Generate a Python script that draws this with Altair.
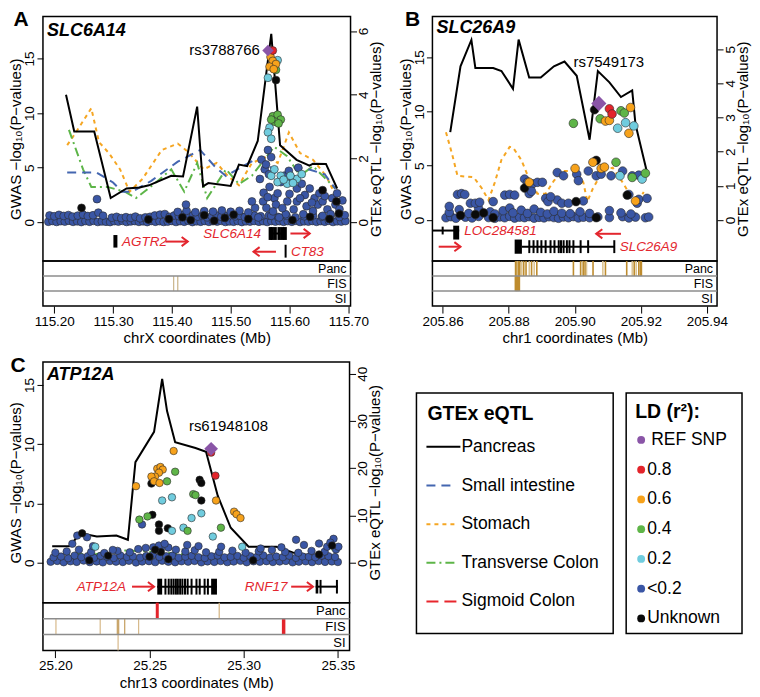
import altair as alt
import pandas as pd

FONT = "Liberation Sans"
GENE_RED = "#E3262E"

LD_COLORS = {"ref": "#8A55A7", "0.8": "#E3242B", "0.6": "#F7A21B", "0.4": "#5FB548",
             "0.2": "#70CCDE", "<0.2": "#3A56A5", "unk": "#0A0A0A"}

LINE_STYLES = {
    "Pancreas": dict(color="#000000", strokeWidth=2.0),
    "Small intestine": dict(color="#4466B0", strokeWidth=2.0, strokeDash=[9, 6]),
    "Stomach": dict(color="#F5A623", strokeWidth=2.0, strokeDash=[4, 4]),
    "Transverse Colon": dict(color="#5DB548", strokeWidth=2.0, strokeDash=[9, 4, 2, 4]),
    "Sigmoid Colon": dict(color="#E8262D", strokeWidth=2.0, strokeDash=[12, 6]),
}

# ---------------------------------------------------------------- Panel A (SLC6A14)
A_PANCREAS = [(115.220, 4.0), (115.234, 2.85), (115.268, 2.85), (115.296, 0.76), (115.323, 1.06),
              (115.345, 1.09), (115.361, 1.16), (115.399, 1.46), (115.419, 1.44), (115.443, 3.63),
              (115.453, 1.13), (115.462, 1.23), (115.500, 1.14), (115.514, 1.81), (115.528, 1.76),
              (115.546, 2.55), (115.569, 5.91), (115.584, 2.42), (115.612, 1.96), (115.634, 1.78),
              (115.640, 1.84), (115.662, 1.83), (115.681, 1.06)]
A_SMALL_INT = [(115.222, 1.56), (115.272, 1.56), (115.300, 1.25), (115.315, 0.96), (115.333, 0.96),
               (115.365, 1.30), (115.410, 1.90), (115.448, 2.27), (115.473, 1.75), (115.492, 1.45),
               (115.520, 1.75), (115.545, 2.00), (115.562, 1.85), (115.580, 1.45), (115.610, 1.72),
               (115.635, 1.65), (115.660, 1.50), (115.678, 1.05)]
A_STOMACH = [(115.222, 2.42), (115.235, 2.77), (115.263, 3.58), (115.276, 2.52), (115.293, 2.17),
             (115.312, 1.66), (115.328, 0.96), (115.350, 1.36), (115.383, 2.27), (115.410, 2.47),
             (115.427, 2.22), (115.454, 1.66), (115.476, 1.86), (115.495, 1.46), (115.514, 1.16),
             (115.536, 1.86), (115.563, 2.07), (115.580, 1.86), (115.599, 2.82), (115.618, 2.17),
             (115.640, 1.96), (115.662, 1.46), (115.681, 0.76)]
A_TRANS_COLON = [(115.225, 2.90), (115.249, 1.66), (115.263, 1.11), (115.290, 1.11), (115.320, 0.96),
                 (115.339, 0.76), (115.367, 1.16), (115.399, 1.66), (115.421, 0.96), (115.443, 1.86),
                 (115.460, 0.76), (115.492, 1.66), (115.514, 1.20), (115.536, 1.46), (115.574, 2.37),
                 (115.596, 2.07), (115.618, 1.46), (115.640, 1.76), (115.662, 1.36), (115.678, 1.06)]

A_BLUE = [
    (115.190, 0.05), (115.197, 0.12), (115.204, 0.03), (115.211, 0.10), (115.218, 0.06), (115.225, 0.14),
    (115.232, 0.04), (115.239, 0.09), (115.246, 0.02), (115.253, 0.11), (115.260, 0.05), (115.267, 0.13),
    (115.274, 0.03), (115.281, 0.08), (115.288, 0.05),
    (115.192, 0.62), (115.200, 0.55), (115.208, 0.68), (115.216, 0.58), (115.224, 0.66), (115.231, 0.52),
    (115.240, 0.61), (115.249, 0.70), (115.257, 0.57), (115.266, 0.64), (115.275, 0.88), (115.283, 0.60),
    (115.295, 0.02), (115.302, 0.10), (115.309, 0.06), (115.316, 0.13), (115.323, 0.03), (115.330, 0.08),
    (115.337, 0.11), (115.344, 0.04), (115.351, 0.09), (115.358, 0.02), (115.365, 0.12), (115.372, 0.05),
    (115.379, 0.10), (115.386, 0.03),
    (115.298, 0.42), (115.306, 0.50), (115.314, 0.38), (115.322, 0.47), (115.330, 0.40), (115.338, 0.52),
    (115.346, 0.36), (115.355, 0.45), (115.363, 0.50), (115.371, 0.62), (115.380, 0.70), (115.388, 0.75),
    (115.393, 0.06), (115.400, 0.12), (115.407, 0.03), (115.414, 0.10), (115.421, 0.05), (115.428, 0.14),
    (115.435, 0.02), (115.442, 0.09), (115.449, 0.05), (115.456, 0.12), (115.463, 0.04), (115.470, 0.10),
    (115.477, 0.06), (115.484, 0.13), (115.491, 0.03), (115.498, 0.08), (115.505, 0.05), (115.512, 0.11),
    (115.519, 0.02), (115.526, 0.09), (115.533, 0.06), (115.540, 0.12),
    (115.396, 0.50), (115.404, 0.62), (115.412, 0.55), (115.420, 0.70), (115.428, 0.58), (115.436, 0.66),
    (115.444, 0.52), (115.452, 0.60), (115.460, 0.45), (115.468, 0.55), (115.476, 0.62), (115.484, 0.50),
    (115.492, 0.58), (115.500, 0.66), (115.508, 0.54), (115.516, 0.60), (115.524, 0.48), (115.532, 0.56),
    (115.540, 0.62),
    (115.410, 0.95), (115.425, 1.05), (115.440, 0.92), (115.455, 1.02), (115.470, 0.98), (115.485, 1.08),
    (115.500, 0.96), (115.515, 1.05), (115.530, 0.90),
    (115.548, 0.05), (115.555, 0.10), (115.562, 0.03), (115.569, 0.12), (115.576, 0.06), (115.583, 0.10),
    (115.590, 0.04), (115.597, 0.11), (115.604, 0.05), (115.611, 0.13), (115.618, 0.03), (115.625, 0.09),
    (115.632, 0.06), (115.639, 0.12), (115.646, 0.04), (115.653, 0.10), (115.660, 0.05), (115.667, 0.13),
    (115.674, 0.03), (115.681, 0.09), (115.688, 0.06), (115.695, 0.11),
    (115.551, 0.55), (115.565, 0.62), (115.580, 0.50), (115.595, 0.60), (115.610, 0.45), (115.625, 0.55),
    (115.640, 0.62), (115.655, 0.50), (115.670, 0.58), (115.685, 0.48), (115.694, 0.65),
    (115.5525, 5.74), (115.5634, 6.62), (115.5689, 5.97), (115.5579, 4.85), (115.5497, 3.97),
    (115.5661, 3.24), (115.5743, 2.21), (115.5552, 1.91), (115.5607, 1.32), (115.5689, 0.59),
    (115.5470, 0.44), (115.5415, 1.32), (115.5361, 1.91), (115.5770, 1.62), (115.5798, 2.65),
    (115.5852, 3.68), (115.5907, 4.26), (115.5989, 4.71), (115.6044, 3.97), (115.6126, 3.09),
    (115.6208, 3.53), (115.6262, 2.50), (115.6344, 3.09), (115.6426, 2.21), (115.6481, 1.62),
    (115.6563, 1.91), (115.6645, 1.18), (115.6727, 2.21), (115.6781, 1.62), (115.6699, 0.74),
    (115.6563, 0.59), (115.6399, 1.03), (115.6235, 0.74), (115.6071, 1.18), (115.5962, 1.91),
    (115.5934, 0.74), (115.5825, 0.44), (115.6126, 1.91), (115.6290, 1.47), (115.6508, 2.65),
    (115.6809, 2.65), (115.6150, 5.00), (115.5600, 5.30), (115.5650, 4.40), (115.5560, 2.70),
    (115.5630, 2.30), (115.5720, 1.00), (115.5880, 1.30), (115.6000, 2.60), (115.6180, 2.20),
    (115.6380, 1.80), (115.6600, 2.40), (115.6850, 1.20), (115.6900, 2.00),
    (115.2727, 2.12), (115.4240, 1.62)]
A_BLACK = [(115.5770, 13.03), (115.6563, 2.94), (115.6798, 1.91), (115.2464, 1.32), (115.3600, 0.25),
           (115.3950, 0.30), (115.4180, 0.45), (115.4320, 0.20), (115.4550, 0.65), (115.4720, 0.15),
           (115.4900, 0.40), (115.5050, 0.70), (115.5300, 0.30), (115.6050, 0.20), (115.6350, 0.50),
           (115.6680, 0.30), (115.6840, 0.80)]
A_CYAN = [(115.5661, 8.68), (115.5634, 8.24), (115.5689, 7.65), (115.5634, 13.24), (115.5798, 14.85),
          (115.5689, 4.26), (115.5852, 4.26), (115.5962, 3.53), (115.6126, 3.97), (115.6208, 4.41),
          (115.5798, 3.68), (115.5743, 4.85), (115.6016, 4.26), (115.5900, 3.90), (115.6060, 3.60)]
A_GREEN = [(115.5716, 9.71), (115.5798, 9.85), (115.5852, 9.41), (115.5754, 9.21), (115.5689, 9.41),
           (115.5814, 9.06), (115.5770, 13.97)]
A_ORANGE = [(115.5678, 15.15), (115.5716, 14.79), (115.5770, 14.50), (115.5661, 14.26), (115.5732, 14.03)]
A_RED = [(115.5716, 15.74)]
A_REF = (115.5634, 15.74)

A_GENE_LINES = [(115.5665, 115.5935, -1.03)]
A_EXON_BLOCKS = []
A_EXON_BARS = [(115.304, -1.17, -2.32, 4.0), (115.5675, -0.44, -1.62, 3.5), (115.5705, -0.44, -1.62, 3.5),
               (115.5755, -0.44, -1.62, 3.5), (115.5825, -0.44, -1.62, 3.5), (115.5880, -0.44, -1.62, 3.5),
               (115.5925, -0.44, -1.62, 3.5), (115.5934, -2.06, -3.24, 2.0)]
A_ARROWS = [(115.389, 115.427, -1.77), (115.6016, 115.6344, -1.03), (115.577, 115.5388, -2.70)]
A_GENE_LABELS = [("AGTR2", 115.312, -1.77, "left"), ("SLC6A14", 115.555, -1.03, "right"),
                 ("CT83", 115.599, -2.70, "left")]
A_TRACK_MARKS = [(115.403, 1, "#CDB991", 1.3), (115.410, 1, "#CDB991", 1.3)]

# ---------------------------------------------------------------- Panel B (SLC26A9)
B_PANCREAS = [(205.8623, 2.57), (205.8654, 4.50), (205.8687, 5.27), (205.8699, 4.45), (205.8753, 4.45),
              (205.8778, 4.36), (205.8813, 3.84), (205.8830, 5.28), (205.8862, 4.17), (205.8897, 4.17),
              (205.8937, 4.50), (205.8969, 4.64), (205.9006, 4.22), (205.9045, 2.35), (205.9070, 4.36),
              (205.9105, 4.03), (205.9140, 3.60), (205.9174, 3.79), (205.9184, 2.80), (205.9219, 1.39)]
B_STOMACH = [(205.8610, 2.57), (205.8628, 1.95), (205.8645, 1.29), (205.8694, 1.25), (205.8719, 0.92),
             (205.8739, 0.58), (205.8758, 1.10), (205.8778, 1.76), (205.8803, 2.14), (205.8813, 2.12),
             (205.8838, 1.76), (205.8862, 1.20), (205.8887, 0.77), (205.8912, 0.77), (205.8937, 1.15),
             (205.8966, 1.43), (205.9006, 1.43), (205.9026, 1.10), (205.9038, 0.54), (205.9055, 0.92),
             (205.9085, 1.43), (205.9115, 1.53), (205.9145, 1.10), (205.9174, 0.63), (205.9189, 0.49),
             (205.9209, 0.82)]

B_BLUE = [
    (205.8610, 0.20), (205.8625, 0.30), (205.8640, 0.15), (205.8669, 0.25), (205.8689, 0.18),
    (205.8709, 0.32), (205.8739, 0.22), (205.8758, 0.15), (205.8773, 0.28), (205.8788, 0.20),
    (205.8803, 0.33), (205.8818, 0.17), (205.8833, 0.26), (205.8848, 0.21), (205.8862, 0.30),
    (205.8877, 0.16), (205.8892, 0.24), (205.8907, 0.19), (205.8922, 0.29), (205.8937, 0.22),
    (205.8951, 0.15), (205.8966, 0.27), (205.8981, 0.20), (205.8996, 0.31), (205.9011, 0.18),
    (205.9026, 0.25), (205.9045, 0.20), (205.9070, 0.28), (205.9105, 0.22), (205.9145, 0.30),
    (205.9164, 0.18), (205.9184, 0.26), (205.9214, 0.20), (205.9224, 0.27),
    (205.8620, 0.70), (205.8650, 0.95), (205.8679, 0.60), (205.8709, 1.05), (205.8744, 0.75),
    (205.8758, 0.55), (205.8783, 0.85), (205.8803, 1.10), (205.8813, 0.65), (205.8838, 0.90),
    (205.8857, 0.60), (205.8877, 1.00), (205.8897, 0.70), (205.8917, 0.55), (205.8937, 0.80),
    (205.8961, 0.62), (205.8986, 0.58), (205.9016, 0.75), (205.9045, 0.60), (205.9105, 0.86),
    (205.9140, 0.65), (205.9170, 0.55),
    (205.8620, 1.25), (205.8645, 2.35), (205.8657, 2.43), (205.8667, 2.35), (205.8684, 1.54),
    (205.8699, 1.54), (205.8712, 1.63), (205.8753, 1.69), (205.8788, 2.29), (205.8803, 2.35),
    (205.8818, 2.29), (205.8848, 3.77), (205.8857, 3.47), (205.8872, 3.33), (205.8887, 3.47),
    (205.8902, 3.47), (205.8862, 2.43), (205.8869, 2.64), (205.8912, 1.99), (205.8919, 1.69),
    (205.8947, 1.84), (205.8961, 1.54), (205.8947, 4.37), (205.8966, 4.07), (205.9006, 4.22),
    (205.9011, 3.62), (205.9041, 4.51), (205.9065, 4.07), (205.9080, 4.22), (205.9110, 4.07),
    (205.9145, 4.51), (205.9174, 4.07), (205.9194, 4.13), (205.9189, 1.54), (205.9194, 1.90),
    (205.9164, 2.35), (205.8981, 1.54), (205.9026, 1.75), (205.8927, 2.14), (205.9219, 1.99)]
B_BLACK = [(205.8654, 0.42), (205.8699, 0.50), (205.8724, 0.65), (205.8753, 0.21), (205.8848, 2.94),
           (205.9004, 1.69), (205.9065, 5.49), (205.9060, 10.16), (205.9159, 2.29), (205.9065, 0.21)]
B_CYAN = [(205.9130, 8.46), (205.9154, 8.97), (205.9179, 8.67), (205.9137, 4.07), (205.9204, 3.77)]
B_GREEN = [(205.8996, 8.91), (205.9077, 9.33), (205.9140, 10.07), (205.9150, 9.86), (205.9125, 5.32),
           (205.9174, 3.92), (205.9214, 4.31)]
B_ORANGE = [(205.8862, 3.47), (205.9001, 4.75), (205.9055, 5.32), (205.9080, 4.75), (205.9090, 4.87),
            (205.9184, 1.75), (205.9093, 9.12), (205.9105, 9.18), (205.9169, 10.37), (205.9164, 7.99)]
B_RED = [(205.9105, 10.25), (205.9113, 9.77)]
B_REF = (205.9073, 10.75)

B_GENE_LINES = [(205.8570, 205.8650, -0.98), (205.8840, 205.9120, -2.47)]
B_EXON_BLOCKS = [(205.8632, 205.8650, -0.53, -1.81), (205.8818, 205.8840, -1.81, -3.12)]
B_EXON_BARS = [(205.8600, -0.62, -1.34, 2.0)] + [
    (p, -1.87, -3.06, 2.0) for p in [205.88624, 205.88752, 205.88871, 205.88990, 205.89118, 205.89267,
                                      205.89386, 205.89515, 205.89584, 205.89663, 205.89762, 205.89841,
                                      205.89960, 205.90178, 205.90406, 205.91198]]
B_ARROWS = [(205.8588, 205.8654, -2.47), (205.9140, 205.9065, -1.28)]
B_GENE_LABELS = [("LOC284581", 205.8659, -0.98, "left"), ("SLC26A9", 205.9130, -2.47, "left")]
B_PANC_MARKS = [205.88208, 205.88237, 205.88267, 205.88297, 205.88336, 205.88396, 205.88455, 205.88525,
                205.88624, 205.88693, 205.88772, 205.88851, 205.89960, 205.90178, 205.90227, 205.90267,
                205.90316, 205.90356, 205.90554, 205.90851, 205.90930, 205.91574, 205.91742, 205.91801,
                205.91861, 205.91940, 205.91990, 205.92019]
B_PANC_DARK = [True, True, False, True, True, False, True, True, False, True, False, True,
               True, True, False, True, True, False, True, False, True, True, False, True,
               False, True, True, True]
B_FIS_MARKS = [205.88208, 205.88228, 205.88248, 205.88268, 205.88290, 205.88317]
B_TRACK_MARKS = ([(p, 0, "#BE8C2E" if d else "#DCC596", 1.6) for p, d in zip(B_PANC_MARKS, B_PANC_DARK)]
                 + [(p, 1, "#BE8C2E", 2.0) for p in B_FIS_MARKS])

# ---------------------------------------------------------------- Panel C (ATP12A)
C_PANCREAS = [(25.1983, 3.51), (25.2073, 3.51), (25.2134, 6.22), (25.2220, 5.54), (25.2324, 5.74),
              (25.2385, 4.86), (25.2425, 21.3), (25.2524, 27.7), (25.2567, 38.9), (25.2593, 32.1),
              (25.2636, 25.5), (25.2744, 24.3), (25.2800, 23.5), (25.2862, 14.2), (25.2931, 7.4),
              (25.3026, 3.4), (25.3174, 3.38), (25.3260, 2.16), (25.3380, 1.35), (25.3410, 1.69),
              (25.3451, 3.38)]
C_TRANS_COLON = [(25.2000, 1.0), (25.2100, 1.9), (25.2200, 1.7), (25.2320, 2.7), (25.2480, 2.4),
                 (25.2620, 2.0), (25.2800, 1.35), (25.3000, 1.2), (25.3150, 1.0), (25.3300, 0.8),
                 (25.3470, 2.7)]

C_ROW0_X = [25.1975, 25.2010, 25.2044, 25.2080, 25.2113, 25.2150, 25.2183, 25.2219, 25.2252, 25.2290,
            25.2322, 25.2358, 25.2391, 25.2428, 25.2461, 25.2497, 25.2530, 25.2567, 25.2600, 25.2636,
            25.2670, 25.2705, 25.2739, 25.2775, 25.2808, 25.2844, 25.2878, 25.2913, 25.2947, 25.2983,
            25.3016, 25.3052, 25.3086, 25.3121, 25.3155, 25.3191, 25.3224, 25.3260, 25.3293, 25.3329,
            25.3363, 25.3398, 25.3432, 25.3468, 25.3500]
C_ROW0_Y = [0.08, 0.15, 0.04, 0.12, 0.07, 0.18, 0.05, 0.11, 0.03, 0.14, 0.09, 0.06, 0.16, 0.02, 0.10,
            0.13, 0.05, 0.17, 0.08, 0.04, 0.12, 0.09, 0.15, 0.03, 0.11, 0.07, 0.14, 0.05, 0.10, 0.16,
            0.04, 0.12, 0.08, 0.13, 0.06, 0.10, 0.15, 0.03, 0.09, 0.12, 0.05, 0.14, 0.07, 0.11, 0.06]
C_ROW1_X = [25.1990, 25.2030, 25.2068, 25.2102, 25.2138, 25.2172, 25.2205, 25.2240, 25.2275, 25.2310,
            25.2345, 25.2380, 25.2412, 25.2450, 25.2483, 25.2518, 25.2552, 25.2588, 25.2622, 25.2655,
            25.2690, 25.2724, 25.2760, 25.2793, 25.2829, 25.2862, 25.2898, 25.2931, 25.2967, 25.3000,
            25.3035, 25.3070, 25.3104, 25.3140, 25.3173, 25.3208, 25.3242, 25.3277, 25.3312, 25.3346,
            25.3380, 25.3415, 25.3450, 25.3485]
C_ROW1_Y = [0.45, 0.52, 0.38, 0.60, 0.47, 0.55, 0.42, 0.58, 0.50, 0.40, 0.62, 0.48, 0.53, 0.44, 0.57,
            0.65, 0.49, 0.55, 0.60, 0.43, 0.51, 0.58, 0.46, 0.40, 0.54, 0.61, 0.45, 0.50, 0.57, 0.42,
            0.55, 0.48, 0.62, 0.44, 0.52, 0.47, 0.59, 0.41, 0.53, 0.50, 0.46, 0.60, 0.55, 0.48]
C_ROW2_X = [25.2000, 25.2060, 25.2125, 25.2190, 25.2260, 25.2330, 25.2395, 25.2440, 25.2480, 25.2520,
            25.2560, 25.2600, 25.2640, 25.2690, 25.2740, 25.2800, 25.2870, 25.2940, 25.3010, 25.3080,
            25.3150, 25.3220, 25.3290, 25.3360, 25.3430, 25.3490]
C_ROW2_Y = [0.85, 0.95, 1.10, 0.90, 0.82, 1.00, 0.88, 1.15, 1.25, 1.30, 1.20, 1.28, 1.10, 0.95, 1.05,
            0.88, 0.92, 1.02, 0.85, 0.96, 1.08, 0.90, 0.84, 1.00, 0.93, 1.12]
C_BLUE_EXTRA = [(25.2460, 3.23), (25.2116, 2.29), (25.2168, 2.15), (25.3278, 1.94), (25.3477, 2.02),
                (25.3443, 1.35), (25.3503, 1.35), (25.2305, 1.08), (25.2700, 1.50), (25.2760, 1.40),
                (25.2880, 1.35), (25.3090, 1.20), (25.3200, 1.30), (25.3400, 1.62), (25.2090, 1.60),
                (25.2200, 1.40), (25.2550, 1.45), (25.2580, 1.60), (25.3320, 1.50), (25.3460, 1.70)]
C_BLUE = (list(zip(C_ROW0_X, C_ROW0_Y)) + list(zip(C_ROW1_X, C_ROW1_Y))
          + list(zip(C_ROW2_X, C_ROW2_Y)) + C_BLUE_EXTRA)
C_BLACK = [(25.2510, 6.68), (25.2766, 7.00), (25.2775, 6.73), (25.2775, 5.25), (25.2515, 4.04),
           (25.2550, 3.23), (25.2550, 2.69), (25.2597, 2.91), (25.2142, 2.48), (25.3469, 1.45),
           (25.2180, 0.20), (25.2280, 0.60), (25.2500, 0.50), (25.2560, 0.90), (25.2600, 0.30),
           (25.2530, 1.10), (25.3050, 0.20), (25.3400, 0.70)]
C_CYAN = [(25.2567, 5.25), (25.2619, 5.52), (25.2775, 4.17), (25.2723, 3.77), (25.2619, 2.69),
          (25.2680, 2.96), (25.2836, 2.21), (25.2212, 1.35), (25.2992, 1.35)]
C_GREEN = [(25.2636, 7.68), (25.2593, 6.87), (25.2732, 5.79), (25.2744, 5.71), (25.2446, 3.64),
           (25.2489, 3.91), (25.2879, 2.96), (25.2702, 2.69)]
C_ORANGE = [(25.2628, 9.43), (25.2541, 7.94), (25.2558, 8.08), (25.2570, 7.86), (25.2550, 7.60),
            (25.2529, 7.27), (25.2510, 7.27), (25.2524, 6.87), (25.2553, 6.73), (25.2428, 6.46),
            (25.2853, 5.25), (25.2949, 4.31), (25.2962, 4.09), (25.2983, 3.77)]
C_RED = [(25.2827, 9.29), (25.2850, 7.35)]
C_REF = (25.2827, 9.61)

C_GENE_LINES = [(25.2541, 25.2858, -2.02), (25.3382, 25.3500, -2.02)]
C_EXON_BLOCKS = [(25.2541, 25.2567, -1.35, -2.69), (25.2827, 25.2858, -1.35, -2.69),
                 (25.3382, 25.3396, -1.45, -2.60)]
C_EXON_BARS = [(p, -1.35, -2.69, 2.0) for p in [25.25844, 25.26017, 25.26156, 25.26277, 25.26399,
                                                25.26502, 25.26624, 25.26745, 25.26884, 25.27023,
                                                25.27231, 25.27491, 25.27664, 25.27924, 25.28098]] + [
    (25.3408, -1.45, -2.60, 2.0), (25.3495, -1.45, -2.60, 2.0)]
C_ARROWS = [(25.2407, 25.2524, -2.02), (25.3252, 25.3368, -2.02)]
C_GENE_LABELS = [("ATP12A", 25.2385, -2.02, "right"), ("RNF17", 25.3243, -2.02, "right")]
C_TRACK_MARKS = [(25.2541, 0, "#E3242B", 3.0), (25.2870, 0, "#D7B98A", 1.3),
                 (25.2003, 1, "#D7B98A", 1.2), (25.2238, 1, "#D7B98A", 1.2), (25.2329, 1, "#C9A56A", 1.3),
                 (25.2336, 1, "#C9A56A", 1.3), (25.2368, 1, "#C9A56A", 1.3), (25.2442, 1, "#D7B98A", 1.2),
                 (25.3212, 1, "#E3242B", 3.5), (25.2333, 2, "#D7B98A", 1.2)]

# ---------------------------------------------------------------- helpers
LEFT_AXIS = dict(values=[0, 5, 10, 15], format="d", title="GWAS −log₁₀(P−values)", orient="left",
                 labelAngle=270, labelAlign="center", labelBaseline="bottom", tickSize=6,
                 labelPadding=0, titlePadding=-1, labelFontSize=13.5, titleFontSize=15)
RIGHT_AXIS = dict(format="d", title="GTEx eQTL −log₁₀(P−values)", orient="right",
                  labelAngle=270, labelAlign="center", labelBaseline="top", titleAngle=270,
                  titleBaseline="top", tickSize=6, labelPadding=0, titlePadding=-1,
                  labelFontSize=13.5, titleFontSize=15)
RIGHT_HEAD = "M-1,-0.75L0,0L-1,0.75"
LEFT_HEAD = "M1,-0.75L0,0L1,0.75"


def pairs_df(pairs, ycol="g"):
    return pd.DataFrame({"x": [p[0] for p in pairs], ycol: [p[1] for p in pairs]})


def build_panel(P):
    W, H, TH = P["width"], P["height"], P["track_height"]
    gd = P["gdom"]
    xs = alt.Scale(domain=P["xdom"], nice=False, zero=False)
    gs = alt.Scale(domain=gd, nice=False, zero=False)
    es = alt.Scale(domain=[gd[0] / P["ratio"], gd[1] / P["ratio"]], nice=False, zero=False)
    X = alt.X("x:Q", scale=xs, axis=None)
    G = alt.Y("g:Q", scale=gs, axis=alt.Axis(**LEFT_AXIS))
    E = alt.Y("e:Q", scale=es, axis=alt.Axis(values=P["rticks"], **RIGHT_AXIS))

    lines = [alt.Chart(pairs_df(pts, "e")).mark_line(**LINE_STYLES[name]).encode(x=X, y=E)
             for name, pts in P["lines"]]
    line_group = alt.layer(*lines)

    gw = []
    df = pd.DataFrame(P["gene_lines"], columns=["x", "x2", "g"])
    gw.append(alt.Chart(df).mark_rule(color="black", strokeWidth=2).encode(x=X, x2="x2", y=G))
    if P["blocks"]:
        df = pd.DataFrame(P["blocks"], columns=["x", "x2", "g", "g2"])
        gw.append(alt.Chart(df).mark_rect(color="black").encode(x=X, x2="x2", y=G, y2="g2"))
    df = pd.DataFrame(P["bars"], columns=["x", "g", "g2", "w"])
    gw.append(alt.Chart(df).mark_rule(color="black").encode(
        x=X, y=G, y2="g2", strokeWidth=alt.StrokeWidth("w:Q", scale=None)))
    arr = pd.DataFrame(P["arrows"], columns=["x", "x2", "g"])
    gw.append(alt.Chart(arr).mark_rule(color=GENE_RED, strokeWidth=2).encode(x=X, x2="x2", y=G))
    rh = pd.DataFrame({"x": [a[1] for a in P["arrows"] if a[1] > a[0]],
                       "g": [a[2] for a in P["arrows"] if a[1] > a[0]]})
    lh = pd.DataFrame({"x": [a[1] for a in P["arrows"] if a[1] < a[0]],
                       "g": [a[2] for a in P["arrows"] if a[1] < a[0]]})
    if len(rh):
        gw.append(alt.Chart(rh).mark_point(shape=RIGHT_HEAD, filled=False, color=GENE_RED,
                                           strokeWidth=2, size=150, opacity=1).encode(x=X, y=G))
    if len(lh):
        gw.append(alt.Chart(lh).mark_point(shape=LEFT_HEAD, filled=False, color=GENE_RED,
                                           strokeWidth=2, size=150, opacity=1).encode(x=X, y=G))
    for al, dx in (("left", 2), ("right", -2)):
        labs = [l for l in P["gene_labels"] if l[3] == al]
        if labs:
            df = pd.DataFrame({"t": [l[0] for l in labs], "x": [l[1] for l in labs], "g": [l[2] for l in labs]})
            gw.append(alt.Chart(df).mark_text(color=GENE_RED, fontStyle="italic", fontSize=13.5,
                                              align=al, dx=dx, baseline="middle").encode(x=X, y=G, text="t:N"))

    frames = []
    for key, pts in P["points"]:
        d = pairs_df(pts)
        d["c"] = LD_COLORS[key]
        frames.append(d)
    pdf = pd.concat(frames, ignore_index=True)
    gw.append(alt.Chart(pdf).mark_circle(size=P["psize"], opacity=1, stroke="#2a2a2a",
                                         strokeWidth=0.6).encode(
        x=X, y=G, fill=alt.Fill("c:N", scale=None)))
    ref = pd.DataFrame({"x": [P["ref"][0]], "g": [P["ref"][1]]})
    gw.append(alt.Chart(ref).mark_point(shape="diamond", filled=True, color=LD_COLORS["ref"],
                                        size=P["dsize"], opacity=1).encode(x=X, y=G))
    rs = pd.DataFrame({"t": [P["rs"][0]], "x": [P["rs"][1]], "g": [P["rs"][2]]})
    gw.append(alt.Chart(rs).mark_text(fontSize=15, align=P["rs"][3], baseline="middle",
                                      color="black").encode(x=X, y=G, text="t:N"))
    one = pd.DataFrame({"k": [0]})
    gw.append(alt.Chart(one).mark_text(fontSize=18, fontWeight="bold", fontStyle="italic",
                                       align="left", baseline="middle", color="black").encode(
        x=alt.value(4), y=alt.value(P["title_y"]), text=alt.value(P["gene"])))
    gw.append(alt.Chart(one).mark_text(fontSize=21, fontWeight="bold", align="center",
                                       baseline="top", color="black").encode(
        x=alt.value(P["letter_dx"]), y=alt.value(-7), text=alt.value(P["letter"])))
    gw_group = alt.layer(*gw)

    main = alt.layer(line_group, gw_group).resolve_scale(y="independent").properties(width=W, height=H)

    XT = alt.X("x:Q", scale=xs, axis=alt.Axis(values=P["xticks"], format=".2f", title=P["xtitle"],
                                              tickSize=7, labelPadding=1, titlePadding=3,
                                              labelFontSize=13.5, titleFontSize=15,
                                              labelFlush=False, labelOverlap=False))
    T = alt.Y("t:Q", scale=alt.Scale(domain=[0, 3], reverse=True, nice=False, zero=False), axis=None)
    tm = pd.DataFrame(P["tracks"], columns=["x", "t", "col", "w"])
    tm["t2"] = tm["t"] + 1
    ticks = alt.Chart(tm).mark_rule().encode(
        x=XT, y=T, y2="t2", color=alt.Color("col:N", scale=None),
        strokeWidth=alt.StrokeWidth("w:Q", scale=None))
    seps = alt.Chart(pd.DataFrame({"t": [1, 2]})).mark_rule(color="#8c8c8c", strokeWidth=1.5).encode(y=T)
    tl = pd.DataFrame({"t": [0.5, 1.5, 2.5], "lab": ["Panc", "FIS", "SI"], "x": [P["xdom"][1]] * 3})
    labels = alt.Chart(tl).mark_text(align="right", dx=-4, baseline="middle", fontSize=P["tfont"],
                                     color="black").encode(x=XT, y=T, text="lab:N")
    tracks = alt.layer(ticks, seps, labels).properties(width=W, height=TH)
    return alt.vconcat(main, tracks, spacing=0, bounds="flush")


panelA = build_panel(dict(
    width=308, height=245, track_height=45, xdom=[115.1808, 115.7038], gdom=[-3.56, 18.86], ratio=2.92,
    rticks=[0, 2, 4, 6], lines=[("Stomach", A_STOMACH), ("Transverse Colon", A_TRANS_COLON),
                                ("Small intestine", A_SMALL_INT), ("Pancreas", A_PANCREAS)],
    gene_lines=A_GENE_LINES, blocks=A_EXON_BLOCKS, bars=A_EXON_BARS, arrows=A_ARROWS,
    gene_labels=A_GENE_LABELS,
    points=[("<0.2", A_BLUE), ("unk", A_BLACK), ("0.2", A_CYAN), ("0.4", A_GREEN), ("0.6", A_ORANGE),
            ("0.8", A_RED)],
    psize=62, ref=A_REF, dsize=130, rs=("rs3788766", 115.5497, 15.74, "right"),
    gene="SLC6A14", title_y=15, letter="A", letter_dx=-22,
    xticks=[115.2, 115.3, 115.4, 115.5, 115.6, 115.7], xtitle="chrX coordinates (Mb)",
    tracks=A_TRACK_MARKS, tfont=12.5))

panelB = build_panel(dict(
    width=285, height=245, track_height=45, xdom=[205.8569, 205.9431], gdom=[-3.80, 18.77], ratio=3.15,
    rticks=[0, 1, 2, 3, 4, 5], lines=[("Stomach", B_STOMACH), ("Pancreas", B_PANCREAS)],
    gene_lines=B_GENE_LINES, blocks=B_EXON_BLOCKS, bars=B_EXON_BARS, arrows=B_ARROWS,
    gene_labels=B_GENE_LABELS,
    points=[("<0.2", B_BLUE), ("unk", B_BLACK), ("0.2", B_CYAN), ("0.4", B_GREEN), ("0.6", B_ORANGE),
            ("0.8", B_RED)],
    psize=75, ref=B_REF, dsize=230, rs=("rs7549173", 205.8996, 14.61, "left"),
    gene="SLC26A9", title_y=12, letter="B", letter_dx=-20,
    xticks=[205.86, 205.88, 205.90, 205.92, 205.94], xtitle="chr1 coordinates (Mb)",
    tracks=B_TRACK_MARKS, tfont=12.5))

panelC = build_panel(dict(
    width=307, height=241, track_height=48, xdom=[25.1934, 25.3562], gdom=[-3.37, 16.94], ratio=0.3986,
    rticks=[0, 10, 20, 30, 40], lines=[("Transverse Colon", C_TRANS_COLON), ("Pancreas", C_PANCREAS)],
    gene_lines=C_GENE_LINES, blocks=C_EXON_BLOCKS, bars=C_EXON_BARS, arrows=C_ARROWS,
    gene_labels=C_GENE_LABELS,
    points=[("<0.2", C_BLUE), ("unk", C_BLACK), ("0.2", C_CYAN), ("0.4", C_GREEN), ("0.6", C_ORANGE),
            ("0.8", C_RED)],
    psize=56, ref=C_REF, dsize=190, rs=("rs61948108", 25.2709, 11.5, "left"),
    gene="ATP12A", title_y=13, letter="C", letter_dx=-25,
    xticks=[25.20, 25.25, 25.30, 25.35], xtitle="chr13 coordinates (Mb)",
    tracks=C_TRACK_MARKS, tfont=13))

# ---------------------------------------------------------------- legends
GTEX_NAMES = ["Pancreas", "Small intestine", "Stomach", "Transverse Colon", "Sigmoid Colon"]
GTEX_LINE_END = [44, 38, 39, 38, 44]
LD_NAMES = ["REF SNP", "0.8", "0.6", "0.4", "0.2", "<0.2", "Unknown"]
LD_KEYS = ["ref", "0.8", "0.6", "0.4", "0.2", "<0.2", "unk"]

OFF = 31  # distance from the legend group's top to the boxes
LEG_W, LEG_H = 326, OFF + 241
LX = alt.X("x:Q", scale=alt.Scale(domain=[0, LEG_W], nice=False, zero=False), axis=None)
LY = alt.Y("y:Q", scale=alt.Scale(domain=[0, LEG_H], reverse=True, nice=False, zero=False), axis=None)

leg = []
boxes = pd.DataFrame({"x": [0, 210], "x2": [197, 326], "y": [OFF, OFF], "y2": [LEG_H, LEG_H]})
leg.append(alt.Chart(boxes).mark_rect(fillOpacity=0, stroke="black", strokeWidth=1.5).encode(
    x=LX, x2="x2", y=LY, y2="y2"))
titles = pd.DataFrame({"x": [11, 219], "y": [OFF + 21, OFF + 19], "t": ["GTEx eQTL", "LD (r²):"]})
leg.append(alt.Chart(titles).mark_text(fontSize=19.5, fontWeight="bold", align="left", baseline="middle",
                                       color="black").encode(x=LX, y=LY, text="t:N"))
for i, name in enumerate(GTEX_NAMES):
    yy = OFF + 54 + 38.7 * i
    seg = pd.DataFrame({"x": [10], "x2": [GTEX_LINE_END[i]], "y": [yy]})
    leg.append(alt.Chart(seg).mark_rule(**LINE_STYLES[name]).encode(x=LX, x2="x2", y=LY))
gt = pd.DataFrame({"x": [45] * 5, "y": [OFF + 54 + 38.7 * i for i in range(5)], "t": GTEX_NAMES})
leg.append(alt.Chart(gt).mark_text(fontSize=17.5, align="left", baseline="middle", color="black").encode(
    x=LX, y=LY, text="t:N"))
ldd = pd.DataFrame({"x": [225] * 7, "y": [OFF + 47 + 29.8 * i for i in range(7)],
                    "c": [LD_COLORS[k] for k in LD_KEYS]})
leg.append(alt.Chart(ldd).mark_circle(size=62, opacity=1).encode(
    x=LX, y=LY, fill=alt.Fill("c:N", scale=None)))
ldt = pd.DataFrame({"x": [235] + [231] * 6, "y": [OFF + 47 + 29.8 * i for i in range(7)], "t": LD_NAMES})
leg.append(alt.Chart(ldt).mark_text(fontSize=17.5, align="left", baseline="middle", color="black").encode(
    x=LX, y=LY, text="t:N"))
legend = alt.layer(*leg).properties(width=LEG_W, height=LEG_H,
                                    view=alt.ViewBackground(stroke="transparent"))

row1 = alt.hconcat(panelA, panelB, spacing=12)
row2 = alt.hconcat(panelC, legend, spacing=30)
chart = alt.vconcat(row1, row2, spacing=7).properties(padding=0).configure_view(
    stroke="black", strokeWidth=1.5
).configure_axis(
    labelFont=FONT, titleFont=FONT, labelColor="black", titleColor="black", tickColor="black",
    grid=False, domain=False, titleFontWeight="normal", tickWidth=1
).configure_text(font=FONT)

chart.save("out.html", embed_options={"renderer": "svg", "actions": False})
